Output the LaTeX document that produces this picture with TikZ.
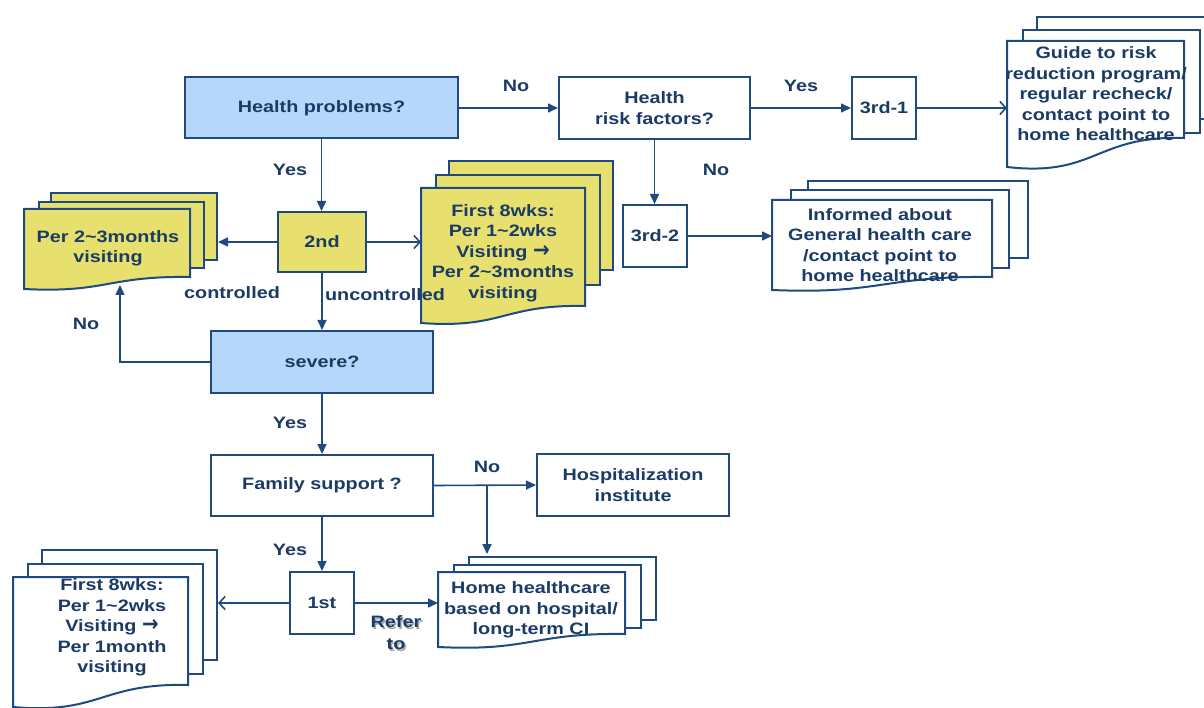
\documentclass[tikz,border=0pt]{standalone}
\usepackage{fontspec}
\usepackage{graphicx}
\usetikzlibrary{arrows.meta,calc}
\newfontfamily\flowfont{Liberation Sans}[FakeStretch=1.2]
\newfontfamily\arrowfont{DejaVu Sans}
\newcommand\thenarrow{\raisebox{0.2pt}{\scalebox{1.2}[1.35]{\arrowfont\bfseries\textrightarrow}}}
\definecolor{ink}{HTML}{1A3B66}
\definecolor{edge}{HTML}{1F4A80}
\definecolor{qblue}{HTML}{B4D7FA}
\definecolor{qyellow}{HTML}{E8E06E}

\tikzset{
  every node/.style={font=\flowfont\bfseries\fontsize{16.5}{20.5}\selectfont, text=ink, align=center},
  box/.style={draw=edge, line width=2pt, fill=white, inner sep=0pt},
  qbox/.style={box, fill=qblue},
  ybox/.style={box, fill=qyellow},
  backdoc/.style={draw=edge, line width=2pt, inner sep=0pt, anchor=north west},
  docline/.style={draw=edge, line width=2pt},
  lbl/.style={inner sep=0pt},
  conn/.style={draw=edge, line width=1.6pt, -{Triangle[length=10pt,width=9pt]}},
  oconn/.style={draw=edge, line width=1.6pt, -{Straight Barb[length=6pt,width=13pt]}},
}

% back sheet of a document stack: name, fill, left, top, right, bottom
\newcommand\backsheet[6]{%
  \node[backdoc, fill=#2, minimum width={(#5-#3)*1pt}, minimum height={(#6-#4)*1pt}] (#1) at (#3,#4) {};}
% front sheet with wavy lower edge: name, fill, left, top, right, right end y, left end y
\newcommand\frontsheet[7]{%
  \path[docline, fill=#2] (#3,#4) -- (#5,#4) -- (#5,#6)
    .. controls ({(#3+#5)/2},{#6-0.1*(#7-#6)}) and ({(#3+#5)/2},{#7+0.35*(#7-#6)}) .. (#3,#7) -- cycle;
  \node[inner sep=0pt, anchor=north west, minimum width={(#5-#3)*1pt}, minimum height={(#6-#4)*1pt}] (#1) at (#3,#4) {};}

\begin{document}
\begin{tikzpicture}[x=1pt,y=-1pt]
\useasboundingbox[fill=white] (0,0) rectangle (1204,708);

% document stacks
\backsheet{gb}{white}{1036}{16}{1214}{118}
\backsheet{gm}{white}{1022}{29}{1199}{132}
\frontsheet{g}{white}{1007}{41}{1184}{138}{167}
\node (gtxt) at (1096,94) {Guide to risk\\reduction program/\\regular recheck/\\contact point to\\home healthcare};

\backsheet{p23b}{qyellow}{50}{192}{216}{259}
\backsheet{p23m}{qyellow}{38}{201}{203}{267}
\frontsheet{p23}{qyellow}{24}{209}{190}{277}{289}
\node (p23txt) at (108,248.5) {Per 2\textasciitilde3months\\visiting};

\backsheet{f8b}{qyellow}{448}{160}{612}{269}
\backsheet{f8m}{qyellow}{435}{174}{599}{284}
\frontsheet{f8}{qyellow}{421}{188}{585}{306}{323}
\node (f8txt) at (503,253) {First 8wks:\\Per 1\textasciitilde2wks\\Visiting \thenarrow\\Per 2\textasciitilde3months\\visiting};

\backsheet{ib}{white}{807}{180}{1027}{257}
\backsheet{im}{white}{790}{189}{1008}{267}
\frontsheet{inf}{white}{772}{200}{992}{277}{290}
\node (inftxt) at (880,245) {Informed about\\General health care\\/contact point to\\home healthcare};

\backsheet{hb}{white}{468}{556}{655}{619}
\backsheet{hm}{white}{453}{564}{640}{627}
\frontsheet{hh}{white}{438}{572}{625}{634}{647}
\node (hhtxt) at (531,610) {Home healthcare\\based on hospital/\\long-term CI};

\backsheet{bb}{white}{41}{549}{216}{659}
\backsheet{bm}{white}{27}{563}{202}{673}
\frontsheet{bl}{white}{13}{577}{188}{685}{707}
\node (bltxt) at (112,627.5) {First 8wks:\\Per 1\textasciitilde2wks\\Visiting \thenarrow\\Per 1month\\visiting};

% decision and step boxes
\node[qbox, minimum width=273pt, minimum height=61pt] (hp) at (321.5,108) {Health problems?};
\node[box, minimum width=191pt, minimum height=62pt] (hrf) at (654.5,108) {Health\\risk factors?};
\node[box, minimum width=64pt, minimum height=62pt] (r31) at (884,108) {3rd-1};
\node[ybox, minimum width=88pt, minimum height=60pt] (s2) at (322,242) {2nd};
\node[box, minimum width=64pt, minimum height=62pt] (r32) at (655,236) {3rd-2};
\node[qbox, minimum width=222pt, minimum height=62pt] (sev) at (322,362) {severe?};
\node[box, minimum width=222pt, minimum height=61pt] (fam) at (322,485.5) {Family support ?};
\node[box, minimum width=192pt, minimum height=62pt] (hosp) at (633,485) {Hospitalization\\institute};
\node[box, minimum width=64pt, minimum height=62pt] (s1) at (322,603) {1st};

% connectors
\draw[conn] (hp.east) -- (hrf.west);
\draw[conn] (hrf.east) -- (r31.west);
\draw[oconn] (r31.east) -- (r31.east -| g.west);
\draw[conn] (hp.south) -- (hp.south |- s2.north);
\draw[conn] (s2.west) -- (s2.west -| p23b.east);
\draw[oconn] (s2.east) -- (s2.east -| f8.west);
\draw[conn] (s2.south) -- (s2.south |- sev.north);
\coordinate (p23in) at (120,285);
\draw[conn] (sev.west) -| (p23in);
\draw[conn] (hrf.south) -- (hrf.south |- r32.north);
\draw[conn] (r32.east) -- (r32.east -| inf.west);
\draw[conn] (sev.south) -- (sev.south |- fam.north);
\draw[conn] (fam.east) -- (hosp.west);
\coordinate (split) at (487,485);
\draw[conn, shorten >=2pt] (split) -- (split |- hb.north);
\draw[conn] (fam.south) -- (fam.south |- s1.north);
\draw[oconn] (s1.west) -- (s1.west -| bb.east);
\draw[conn] (s1.east) -- (s1.east -| hh.west);

% branch labels
\node[lbl] (lno1) at (516,86) {No};
\node[lbl] (lyes1) at (801,86) {Yes};
\node[lbl] (lyes2) at (290,170) {Yes};
\node[lbl] (lno2) at (716,170) {No};
\node[lbl] (lctl) at (232,293) {controlled};
\node[lbl] (lunc) at (385,295) {uncontrolled};
\node[lbl] (lno3) at (86,324) {No};
\node[lbl] (lyes3) at (290,423) {Yes};
\node[lbl] (lno4) at (487,467) {No};
\node[lbl] (lyes4) at (290,550) {Yes};
\node[lbl, text=black!35, font=\flowfont\bfseries\fontsize{16.5}{22}\selectfont] (lrefsh) at (397.5,634.5) {Refer\\to};
\node[lbl, font=\flowfont\bfseries\fontsize{16.5}{22}\selectfont] (lref) at (396,633) {Refer\\to};
\end{tikzpicture}
\end{document}
